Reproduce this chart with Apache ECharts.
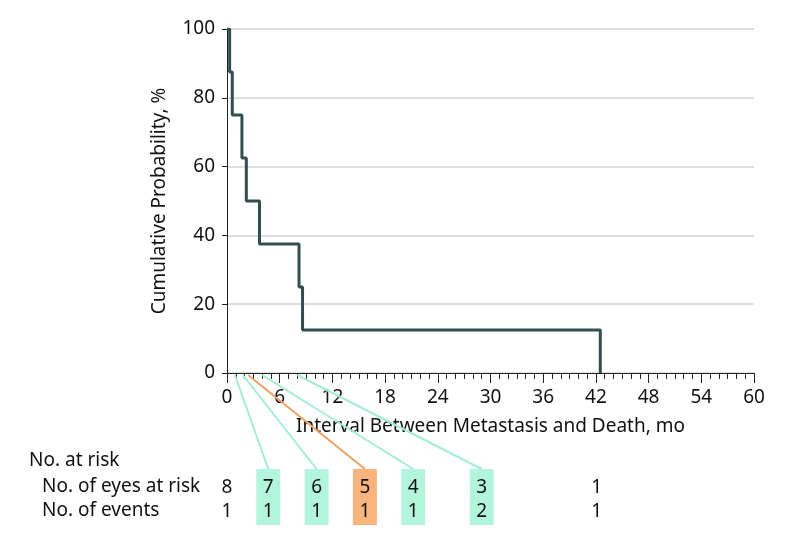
<!DOCTYPE html>
<html>
<head>
<meta charset="utf-8">
<script src="https://cdn.jsdelivr.net/npm/echarts@6/dist/echarts.min.js"></script>
<style>
  html, body { margin: 0; padding: 0; background: #fff; }
  #chart { width: 794px; height: 546px; }
</style>
</head>
<body>
<div id="chart"></div>
<script>
(function() {
  // Kaplan-Meier curve
  var months = [0, 0.3, 0.6, 1.7, 2.2, 3.7, 8.2, 8.6, 42.5];
  var probability = [100, 87.5, 75, 62.5, 50, 37.5, 25, 12.5, 0];

  // number-at-risk table (column placement in months on the shared x scale)
  var riskCols = [0, 4.7, 10.2, 15.7, 21.2, 29, 42.1];
  var eyesAtRisk = [8, 7, 6, 5, 4, 3, 1];
  var events = [1, 1, 1, 1, 1, 2, 1];
  var highlight = ['', 'green', 'green', 'orange', 'green', 'green', ''];
  var eventTimes = [null, 0.9, 1.8, 2.4, 4.0, 8.0, null];

  var xTicks = [0, 6, 12, 18, 24, 30, 36, 42, 48, 54, 60];

  var font = 'Noto Sans';
  var fs = 19;
  var ink = '#111111';
  var curve = '#2f4f4c';
  var boxFill = { green: '#b3f5dc', orange: '#f9b47e' };
  var linkColor = { green: '#a3eed2', orange: '#eba263' };

  // table rows in the lower grid (units along its inverted y axis)
  var ROW_LINK = 0, ROW_BOXTOP = 94, ROW_EYES = 113, ROW_EVENTS = 137, ROW_BOXBOT = 150;

  var kmData = months.map(function(m, i) { return [m, probability[i]]; });

  var boxData = [];
  riskCols.forEach(function(c, i) {
    if (highlight[i]) boxData.push([c, eventTimes[i], highlight[i]]);
  });

  var cellData = [];
  riskCols.forEach(function(c, i) {
    cellData.push([c, ROW_EYES, eyesAtRisk[i]]);
    cellData.push([c, ROW_EVENTS, events[i]]);
  });

  var chart = echarts.init(document.getElementById('chart'), null, { renderer: 'canvas' });

  chart.setOption({
    animation: false,
    backgroundColor: '#fff',
    textStyle: { fontFamily: font },
    grid: [
      { left: 227, right: 40, top: 29, height: 344 },
      { left: 227, right: 40, top: 375, height: 150 }
    ],
    xAxis: [{
      gridIndex: 0, type: 'value', min: 0, max: 60, interval: 6,
      name: 'Interval Between Metastasis and Death, mo',
      nameLocation: 'middle', nameGap: 44,
      nameTextStyle: { color: ink, fontSize: fs, fontFamily: font },
      axisLine: { show: true, onZero: false, lineStyle: { color: '#222', width: 1 } },
      axisTick: { show: true, length: 10, lineStyle: { color: '#222' } },
      minorTick: { show: true, splitNumber: 6, length: 6, lineStyle: { color: '#222' } },
      axisLabel: { color: ink, fontSize: fs, fontFamily: font, margin: 15,
        customValues: xTicks },
      splitLine: { show: false }
    }, {
      gridIndex: 1, type: 'value', min: 0, max: 60, show: false
    }],
    yAxis: [{
      gridIndex: 0, type: 'value', min: 0, max: 100, interval: 20,
      name: 'Cumulative Probability, %',
      nameLocation: 'middle', nameGap: 58, nameRotate: 90,
      nameTextStyle: { color: ink, fontSize: fs, fontFamily: font },
      axisLine: { show: true, lineStyle: { color: '#222', width: 1 } },
      axisTick: { show: true, length: 5, lineStyle: { color: '#222' } },
      axisLabel: { color: ink, fontSize: fs, fontFamily: font, margin: 12 },
      splitLine: { show: true, lineStyle: { color: '#d3d3d3', width: 1.5 } }
    }, {
      gridIndex: 1, type: 'value', min: 0, max: 150, inverse: true, show: false
    }],
    graphic: [
      { type: 'text', left: 29, top: 451, style: { text: 'No. at risk', fill: ink, font: fs + 'px "Noto Sans"' } },
      { type: 'text', left: 42, top: 477, style: { text: 'No. of eyes at risk', fill: ink, font: fs + 'px "Noto Sans"' } },
      { type: 'text', left: 42, top: 501, style: { text: 'No. of events', fill: ink, font: fs + 'px "Noto Sans"' } }
    ],
    series: [
      {
        type: 'line', xAxisIndex: 0, yAxisIndex: 0, data: kmData, step: 'end',
        showSymbol: false, lineStyle: { color: curve, width: 3 }, z: 5
      },
      {
        type: 'custom', xAxisIndex: 1, yAxisIndex: 1, data: boxData, z: 1,
        renderItem: function(params, api) {
          var col = api.value(0), t = api.value(1);
          var kind = boxData[params.dataIndex][2];
          var top = api.coord([col, ROW_BOXTOP]);
          var bot = api.coord([col, ROW_BOXBOT]);
          var start = api.coord([t, ROW_LINK]);
          return {
            type: 'group',
            children: [
              { type: 'rect', shape: { x: top[0] - 12, y: top[1], width: 24, height: bot[1] - top[1] },
                style: { fill: boxFill[kind] } },
              { type: 'line', shape: { x1: start[0], y1: start[1], x2: top[0], y2: top[1] },
                style: { stroke: linkColor[kind], lineWidth: 2 } }
            ]
          };
        }
      },
      {
        type: 'custom', xAxisIndex: 1, yAxisIndex: 1, data: cellData, z: 3,
        renderItem: function(params, api) {
          var p = api.coord([api.value(0), api.value(1)]);
          return {
            type: 'text', x: p[0], y: p[1],
            style: { text: String(api.value(2)), fill: ink, font: fs + 'px "Noto Sans"',
              align: 'center', verticalAlign: 'middle' }
          };
        }
      }
    ]
  });
})();
</script>
</body>
</html>
